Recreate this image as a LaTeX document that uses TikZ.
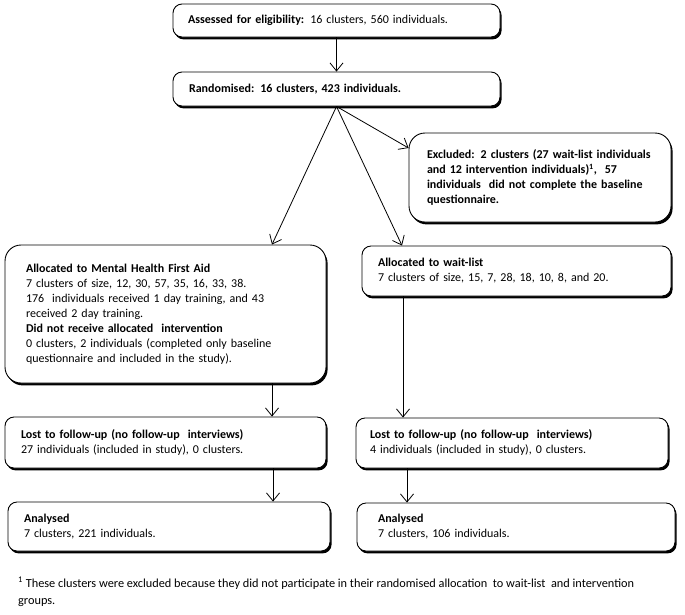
\documentclass[tikz,border=0pt]{standalone}
\usepackage{fontspec}
\setmainfont{Carlito}
\usetikzlibrary{arrows.meta,shadows,calc}
\begin{document}
\begin{tikzpicture}[x=1pt,y=-1pt,
  box/.style={draw, line width=0.9pt, fill=white, rounded corners=9pt, align=left,
    inner xsep=0pt, inner ysep=0pt, font=\fontsize{12}{15}\selectfont,
    drop shadow={shadow xshift=1.6pt, shadow yshift=-2.4pt, opacity=1, fill=black}},
  biground/.style={rounded corners=16pt},
  arr/.style={line width=0.8pt, -{Straight Barb[length=8pt,width=13pt]}},
  note/.style={font=\fontsize{12.3}{17}\selectfont, align=left, inner sep=0pt}]
\useasboundingbox (0,0) rectangle (685,614);
% helper: box from (x1,y1) to (x2,y2) with left padding p
\newcommand{\bx}[8][]{%
  \pgfmathsetmacro{\cx}{(#3+#5)/2}\pgfmathsetmacro{\cy}{(#4+#6)/2}%
  \pgfmathsetmacro{\bw}{#5-#3}\pgfmathsetmacro{\bh}{#6-#4}\pgfmathsetmacro{\tw}{#5-#3-2*#7}%
  \node[box,#1,minimum width=\bw pt,minimum height=\bh pt,text width=\tw pt] (#2) at (\cx,\cy) {#8};}
\bx{assess}{173}{4}{500}{37}{15}{\textbf{Assessed for eligibility:} 16 clusters, 560 individuals.}
\bx{rand}{173}{72}{500}{106}{16}{\textbf{Randomised: 16 clusters, 423 individuals.}}
\bx[biground]{excl}{409}{133}{671}{222}{18}{\textbf{Excluded: 2 clusters (27 wait-list individuals}\\
\textbf{and 12 intervention individuals)\textsuperscript{1},\ \ 57}\\
\textbf{individuals\ \ did not complete the baseline}\\
\textbf{questionnaire.}}
\bx[biground]{mhfa}{5}{245}{326}{383}{21}{\textbf{Allocated to Mental Health First Aid}\\
7 clusters of size, 12, 30, 57, 35, 16, 33, 38.\\
176\ \ individuals received 1 day training, and 43\\
received 2 day training.\\
\textbf{Did not receive allocated\ \ intervention}\\
0 clusters, 2 individuals (completed only baseline\\
questionnaire and included in the study).}
\bx{wait}{362}{246}{671}{296}{16}{\textbf{Allocated to wait-list}\\
7 clusters of size, 15, 7, 28, 18, 10, 8, and 20.}
\bx{lostL}{5}{417}{326}{468}{16}{\textbf{Lost to follow-up (no follow-up\ \ interviews)}\\
27 individuals (included in study), 0 clusters.}
\bx{lostR}{356}{418}{668}{468}{14}{\textbf{Lost to follow-up (no follow-up\ \ interviews)}\\
4 individuals (included in study), 0 clusters.}
\bx{anaL}{8}{502}{330}{551}{16}{\textbf{Analysed}\\
7 clusters, 221 individuals.}
\bx{anaR}{357}{503}{675}{551}{21}{\textbf{Analysed}\\
7 clusters, 106 individuals.}
\node[note, anchor=north west] (fn) at (18,577) {\textsuperscript{1} These clusters were excluded because they did not participate in their randomised allocation\ \ to wait-list\ \ and intervention\\
groups.};
% connectors
\draw[arr] (assess.south) -- (rand.north);
\draw[arr] (rand.south) -- (excl.west |- 0,148);
\draw[arr] (rand.south) -- (mhfa.north -| 272,0);
\draw[arr] (rand.south) -- (wait.north -| 402,0);
\draw[arr] (mhfa.south -| 272,0) -- (lostL.north -| 272,0);
\draw[arr] (wait.south -| 403,0) -- (lostR.north -| 403,0);
\draw[arr] (lostL.south -| 273,0) -- (anaL.north -| 273,0);
\draw[arr] (lostR.south -| 407,0) -- (anaR.north -| 407,0);
\end{tikzpicture}
\end{document}
